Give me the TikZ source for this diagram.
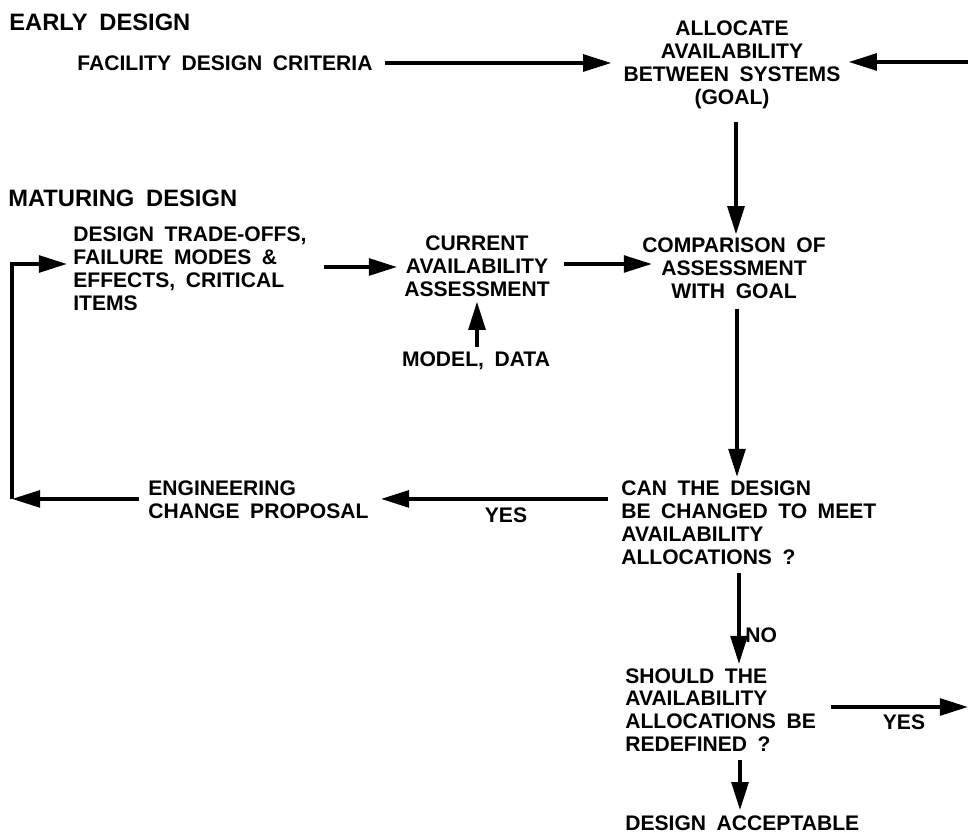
\documentclass[tikz,border=0pt]{standalone}
\usepackage{fontspec}
\setmainfont{Liberation Sans}[WordSpace=1.8]
\usetikzlibrary{arrows.meta,calc}
\begin{document}
\begin{tikzpicture}[x=0.02cm,y=-0.02cm,
  txt/.style={inner sep=0pt, font=\bfseries\fontsize{12}{13}\selectfont},
  lt/.style={txt, anchor=west, align=left},
  ct/.style={txt, align=center},
  hdr/.style={inner sep=0pt, anchor=west, font=\bfseries\fontsize{13.5}{15}\selectfont},
  ln/.style={line width=2.1pt},
  arr/.style={ln, -{Triangle[length=16pt,width=9.5pt]}}]
\fill[white] (0,0) rectangle (968,834);
\useasboundingbox (0,0) rectangle (968,834);
% page edges used as free ends
\coordinate (ein) at (968,62);
\coordinate (lc) at (12,0);
% texts
\node[hdr] (early) at (9,22) {EARLY DESIGN};
\node[hdr] (mat) at (8,198) {MATURING DESIGN};
\node[lt] (fdc) at (77,63) {FACILITY DESIGN CRITERIA};
\node[ct] (alloc) at (732,65) {ALLOCATE\\AVAILABILITY\\BETWEEN SYSTEMS\\(GOAL)};
\node[lt] (dto) at (73,269) {DESIGN TRADE-OFFS,\\FAILURE MODES \&\\EFFECTS, CRITICAL\\ITEMS};
\node[ct] (cur) at (477,266) {CURRENT\\AVAILABILITY\\ASSESSMENT};
\node[ct] (md) at (476,361) {MODEL, DATA};
\node[ct] (cmp) at (734,268) {COMPARISON OF\\ASSESSMENT\\WITH GOAL};
\node[lt] (can) at (621,523) {CAN THE DESIGN\\BE CHANGED TO MEET\\AVAILABILITY\\ALLOCATIONS ?};
\node[lt] (eng) at (148,500) {ENGINEERING\\CHANGE PROPOSAL};
\node[lt] (sh) at (625,710) {SHOULD THE\\AVAILABILITY\\ALLOCATIONS BE\\REDEFINED ?};
\node[lt] (acc) at (625,823) {DESIGN ACCEPTABLE};
\node[ct] (yes1) at (506,515) {YES};
\node[lt] (no) at (745,635) {NO};
\node[ct] (yes2) at (904,722) {YES};
% connectors
\draw[arr] ($(fdc.east)+(12,0)$) coordinate (f1) -- ($(f1 -| alloc.west)+(-12,0)$);
\draw[arr] ($(ein)$) -- ($(ein -| alloc.east)+(8,0)$);
\draw[arr] ($(alloc.south)+(4,13)$) -- ($(cmp.north)+(2,-3)$);
\draw[arr] ($(dto.east)+(17,-2)$) coordinate (d1) -- ($(d1 -| cur.west)+(-7,0)$);
\draw[arr] ($(cur.east)+(14,-2)$) coordinate (d2) -- ($(d2 -| cmp.west)+(10,0)$);
\draw[arr] ($(md.north)+(1,-5)$) -- ($(cur.south)+(0,5)$);
\draw[arr] ($(cmp.south)+(3,10)$) -- ($(can.north west)+(116,-4)$);
\draw[arr] ($(can.north west)+(-13,18)$) coordinate (c1) -- ($(c1 -| eng.east)+(12,0)$);
\draw[arr] ($(c1 -| eng.west)+(-9,0)$) -- (c1 -| lc);
\draw[arr] (c1 -| lc) -- ($(lc |- dto.west)+(0,-5)$) -- ($(dto.west)+(-6,-5)$);
\draw[arr] ($(can.south west)+(118,8)$) -- ($(sh.north west)+(114,-4)$);
\draw[arr] ($(sh.east)+(15,-3)$) coordinate (s1) -- (s1 -| ein);
\draw[arr] ($(sh.south west)+(115,8)$) -- ($(acc.north west)+(115,-5)$);
\end{tikzpicture}
\end{document}
